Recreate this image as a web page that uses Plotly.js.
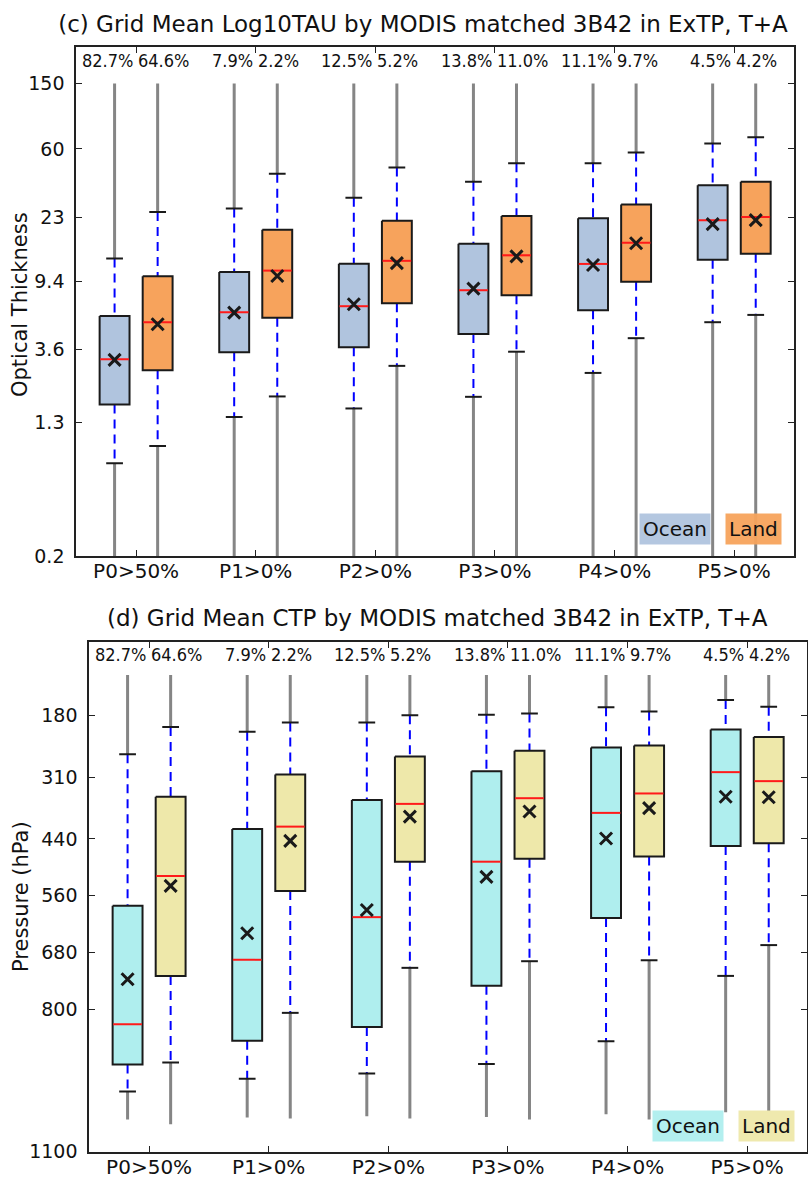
<!DOCTYPE html>
<html>
<head>
<meta charset="utf-8">
<script src="https://cdn.plot.ly/plotly-3.0.1.min.js"></script>
<style>html,body{margin:0;padding:0;background:#fff;}#chart{width:808px;height:1177px;}</style>
</head>
<body>
<div id="chart"></div>
<script>
// ---------------- data ----------------
const groups = ['P0>50%', 'P1>0%', 'P2>0%', 'P3>0%', 'P4>0%', 'P5>0%'];
const pctOcean = ['82.7%', '7.9%', '12.5%', '13.8%', '11.1%', '4.5%'];
const pctLand  = ['64.6%', '2.2%', '5.2%', '11.0%', '9.7%', '4.2%'];

// (c) Optical thickness
const tauTicks = [0.2, 1.3, 3.6, 9.4, 23, 60, 150];
const tauOceanMax   = [150, 150, 150, 150, 150, 150];
const tauOceanHiCap = [12.9, 26.0, 30.3, 37.8, 49.1, 64.7];
const tauOceanQ3    = [5.78, 10.7, 12.0, 15.9, 22.7, 36.1];
const tauOceanMed   = [3.15, 6.08, 6.62, 8.28, 11.97, 22.1];
const tauOceanMean  = [3.12, 6.05, 6.81, 8.47, 11.8, 20.9];
const tauOceanQ1    = [1.67, 3.47, 3.73, 4.49, 6.26, 12.7];
const tauOceanLoCap = [0.733, 1.40, 1.58, 1.86, 2.60, 5.29];
const tauOceanMin   = [0.2, 0.2, 0.2, 0.2, 0.2, 0.2];

const tauLandMax   = [150, 150, 150, 150, 150, 150];
const tauLandHiCap = [24.8, 42.3, 46.2, 49.1, 57.0, 70.7];
const tauLandQ3    = [10.08, 19.3, 21.9, 23.4, 27.5, 37.8];
const tauLandMed   = [5.29, 10.9, 12.5, 13.5, 16.1, 23.1];
const tauLandMean  = [5.14, 10.1, 12.1, 13.3, 16.0, 22.1];
const tauLandQ1    = [2.70, 5.64, 6.90, 7.72, 9.34, 13.8];
const tauLandLoCap = [0.934, 1.87, 2.87, 3.50, 4.23, 5.86];
const tauLandMin   = [0.2, 0.2, 0.2, 0.2, 0.2, 0.2];

// (d) Cloud top pressure (hPa)
const ctpTicks = [180, 310, 440, 560, 680, 800, 1100];
const ctpOceanTop   = [94, 94, 94, 94, 94, 94];
const ctpOceanHiCap = [261, 214, 194, 178, 162, 147];
const ctpOceanQ1    = [581, 419, 358, 297, 247, 209];
const ctpOceanMed   = [831, 695, 605, 488, 385, 299];
const ctpOceanMean  = [736, 639, 590, 520, 439, 351];
const ctpOceanQ3    = [916, 866, 837, 750, 607, 455];
const ctpOceanLoCap = [973, 946, 935, 915, 867, 729];
const ctpOceanBot   = [1032, 1028, 1025, 1027, 1021, 1017];

const ctpLandTop   = [94, 94, 94, 94, 94, 94];
const ctpLandHiCap = [204, 194, 179, 175, 171, 161];
const ctpLandQ1    = [351, 304, 266, 254, 243, 225];
const ctpLandMed   = [518, 414, 366, 354, 344, 318];
const ctpLandMean  = [539, 444, 393, 382, 375, 352];
const ctpLandQ3    = [729, 550, 488, 482, 477, 449];
const ctpLandLoCap = [912, 807, 712, 698, 696, 664];
const ctpLandBot   = [1042, 1030, 1030, 1032, 1032, 1014];

// ---------------- helpers ----------------
const OFF = 0.18, BOXHW = 0.125, CAPHW = 0.07;
const idx = groups.map((g, i) => i);

function vsegs(xs, a, b) {
  const x = [], y = [];
  xs.forEach((xv, i) => { x.push(xv, xv, null); y.push(a[i], b[i], null); });
  return {x, y};
}
function hsegs(xs, hw, v) {
  const x = [], y = [];
  xs.forEach((xv, i) => { x.push(xv - hw, xv + hw, null); y.push(v[i], v[i], null); });
  return {x, y};
}
function rects(xs, hw, lo, hi) {
  const x = [], y = [];
  xs.forEach((xv, i) => {
    x.push(xv - hw, xv + hw, xv + hw, xv - hw, xv - hw, null);
    y.push(lo[i], lo[i], hi[i], hi[i], lo[i], null);
  });
  return {x, y};
}

function boxTraces(xs, s, fill, xa, ya) {
  const t = [];
  const ext1 = vsegs(xs, s.ext1, s.cap1), ext2 = vsegs(xs, s.cap2, s.ext2);
  t.push({type: 'scatter', mode: 'lines', x: ext1.x.concat(ext2.x), y: ext1.y.concat(ext2.y),
    xaxis: xa, yaxis: ya, line: {color: '#858585', width: 3}, hoverinfo: 'skip'});
  const w1 = vsegs(xs, s.cap1, s.b1), w2 = vsegs(xs, s.b2, s.cap2);
  t.push({type: 'scatter', mode: 'lines', x: w1.x.concat(w2.x), y: w1.y.concat(w2.y),
    xaxis: xa, yaxis: ya, line: {color: '#0000ff', width: 2, dash: '9px,6px'}, hoverinfo: 'skip'});
  const c1 = hsegs(xs, CAPHW, s.cap1), c2 = hsegs(xs, CAPHW, s.cap2);
  t.push({type: 'scatter', mode: 'lines', x: c1.x.concat(c2.x), y: c1.y.concat(c2.y),
    xaxis: xa, yaxis: ya, line: {color: '#1a1a1a', width: 2}, hoverinfo: 'skip'});
  const r = rects(xs, BOXHW, s.b1, s.b2);
  t.push({type: 'scatter', mode: 'lines', x: r.x, y: r.y, fill: 'toself', fillcolor: fill,
    xaxis: xa, yaxis: ya, line: {color: '#1a1a1a', width: 2}, hoverinfo: 'skip'});
  const m = hsegs(xs, BOXHW - 0.005, s.med);
  t.push({type: 'scatter', mode: 'lines', x: m.x, y: m.y,
    xaxis: xa, yaxis: ya, line: {color: '#ff1a1a', width: 2}, hoverinfo: 'skip'});
  t.push({type: 'scatter', mode: 'markers', x: xs, y: s.mean, xaxis: xa, yaxis: ya,
    marker: {symbol: 'x-thin', size: 12, line: {width: 3, color: '#1a1a1a'}}, hoverinfo: 'skip'});
  return t;
}

const xo = idx.map(i => i - OFF), xl = idx.map(i => i + OFF);

const traces = []
  .concat(boxTraces(xo, {ext1: tauOceanMax, cap1: tauOceanHiCap, b1: tauOceanQ3, med: tauOceanMed,
      mean: tauOceanMean, b2: tauOceanQ1, cap2: tauOceanLoCap, ext2: tauOceanMin}, '#b0c4de', 'x', 'y'))
  .concat(boxTraces(xl, {ext1: tauLandMax, cap1: tauLandHiCap, b1: tauLandQ3, med: tauLandMed,
      mean: tauLandMean, b2: tauLandQ1, cap2: tauLandLoCap, ext2: tauLandMin}, '#f7a35c', 'x', 'y'))
  .concat(boxTraces(xo, {ext1: ctpOceanTop, cap1: ctpOceanHiCap, b1: ctpOceanQ1, med: ctpOceanMed,
      mean: ctpOceanMean, b2: ctpOceanQ3, cap2: ctpOceanLoCap, ext2: ctpOceanBot}, '#afeeee', 'x2', 'y2'))
  .concat(boxTraces(xl, {ext1: ctpLandTop, cap1: ctpLandHiCap, b1: ctpLandQ1, med: ctpLandMed,
      mean: ctpLandMean, b2: ctpLandQ3, cap2: ctpLandLoCap, ext2: ctpLandBot}, '#eee8aa', 'x2', 'y2'));

// ---------------- layout ----------------
const W = 808, H = 1177;
const px = v => v / W, py = v => (H - v) / H;
const FONT = 'DejaVu Sans, Liberation Sans, sans-serif';
const INK = '#111111';

function xAxis(dom, anchor) {
  return {domain: dom, anchor: anchor, range: [-0.5, 5.5], tickmode: 'array', tickvals: idx, ticktext: groups,
    ticks: 'inside', ticklen: 6, tickwidth: 1, tickcolor: '#222', showline: true, linecolor: '#222', linewidth: 2,
    mirror: 'ticks', showgrid: false, zeroline: false, tickfont: {size: 20, color: INK}, ticklabelstandoff: -4};
}
function yAxis(dom, anchor, extra) {
  return Object.assign({domain: dom, anchor: anchor, tickmode: 'array',
    ticks: 'inside', ticklen: 6, tickwidth: 1, tickcolor: '#222', showline: true, linecolor: '#222', linewidth: 2,
    mirror: 'ticks', showgrid: false, zeroline: false, tickfont: {size: 19, color: INK}, ticklabelstandoff: 6}, extra);
}

const annotations = [];
function pctAnn(xa, yPix) {
  groups.forEach((g, i) => {
    annotations.push({xref: xa, yref: 'paper', x: i, y: py(yPix), xanchor: 'right', yanchor: 'middle',
      text: pctOcean[i], showarrow: false, xshift: -1,
      font: {family: 'DejaVu Sans Condensed, DejaVu Sans, sans-serif', size: 18, color: INK}});
    annotations.push({xref: xa, yref: 'paper', x: i, y: py(yPix), xanchor: 'left', yanchor: 'middle',
      text: pctLand[i], showarrow: false, xshift: 0,
      font: {family: 'DejaVu Sans Condensed, DejaVu Sans, sans-serif', size: 18, color: INK}});
  });
}
pctAnn('x', 60);
pctAnn('x2', 654);

function legAnn(text, cx, cy, bg) {
  annotations.push({xref: 'paper', yref: 'paper', x: px(cx), y: py(cy), xanchor: 'center', yanchor: 'middle',
    text: text, showarrow: false, bgcolor: bg, borderpad: 3, font: {size: 20, color: INK}});
}
legAnn('Ocean', 675, 529, 'rgba(176,196,222,0.95)');
legAnn('Land', 753, 529, 'rgba(247,163,92,0.95)');
legAnn('Ocean', 688, 1125.5, 'rgba(175,238,238,0.95)');
legAnn('Land', 766, 1125.5, 'rgba(238,232,170,0.95)');

annotations.push({xref: 'paper', yref: 'paper', x: px(437), y: py(618), xanchor: 'center', yanchor: 'middle',
  text: '(d) Grid Mean CTP by MODIS matched 3B42 in ExTP, T+A', showarrow: false, font: {size: 23, color: INK}});
annotations.push({xref: 'paper', yref: 'paper', x: px(20), y: py(305), xanchor: 'center', yanchor: 'middle',
  text: 'Optical Thickness', textangle: -90, showarrow: false, font: {size: 21, color: INK}});
annotations.push({xref: 'paper', yref: 'paper', x: px(21), y: py(897), xanchor: 'center', yanchor: 'middle',
  text: 'Pressure (hPa)', textangle: -90, showarrow: false, font: {size: 21, color: INK}});

const layout = {
  width: W, height: H, margin: {l: 0, r: 0, t: 0, b: 0}, paper_bgcolor: '#fff', plot_bgcolor: '#fff',
  showlegend: false, font: {family: FONT, color: INK},
  title: {text: '(c) Grid Mean Log10TAU by MODIS matched 3B42 in ExTP, T+A', x: px(423), xanchor: 'center',
    xref: 'paper', yref: 'paper', y: py(24), yanchor: 'middle', font: {size: 23, color: INK}},
  xaxis: xAxis([px(76.3), px(794)], 'y'),
  yaxis: yAxis([py(556), py(47)], 'x', {type: 'log', range: [Math.log10(0.2), Math.log10(250)],
    tickvals: tauTicks, ticktext: tauTicks.map(String)}),
  xaxis2: xAxis([px(89.3), px(807)], 'y2'),
  yaxis2: yAxis([py(1151.7), py(642.3)], 'x2', {type: 'linear', range: [1100, 25],
    tickvals: ctpTicks, ticktext: ctpTicks.map(String)}),
  annotations: annotations
};

Plotly.newPlot('chart', traces, layout, {displayModeBar: false, staticPlot: true});
</script>
</body>
</html>
